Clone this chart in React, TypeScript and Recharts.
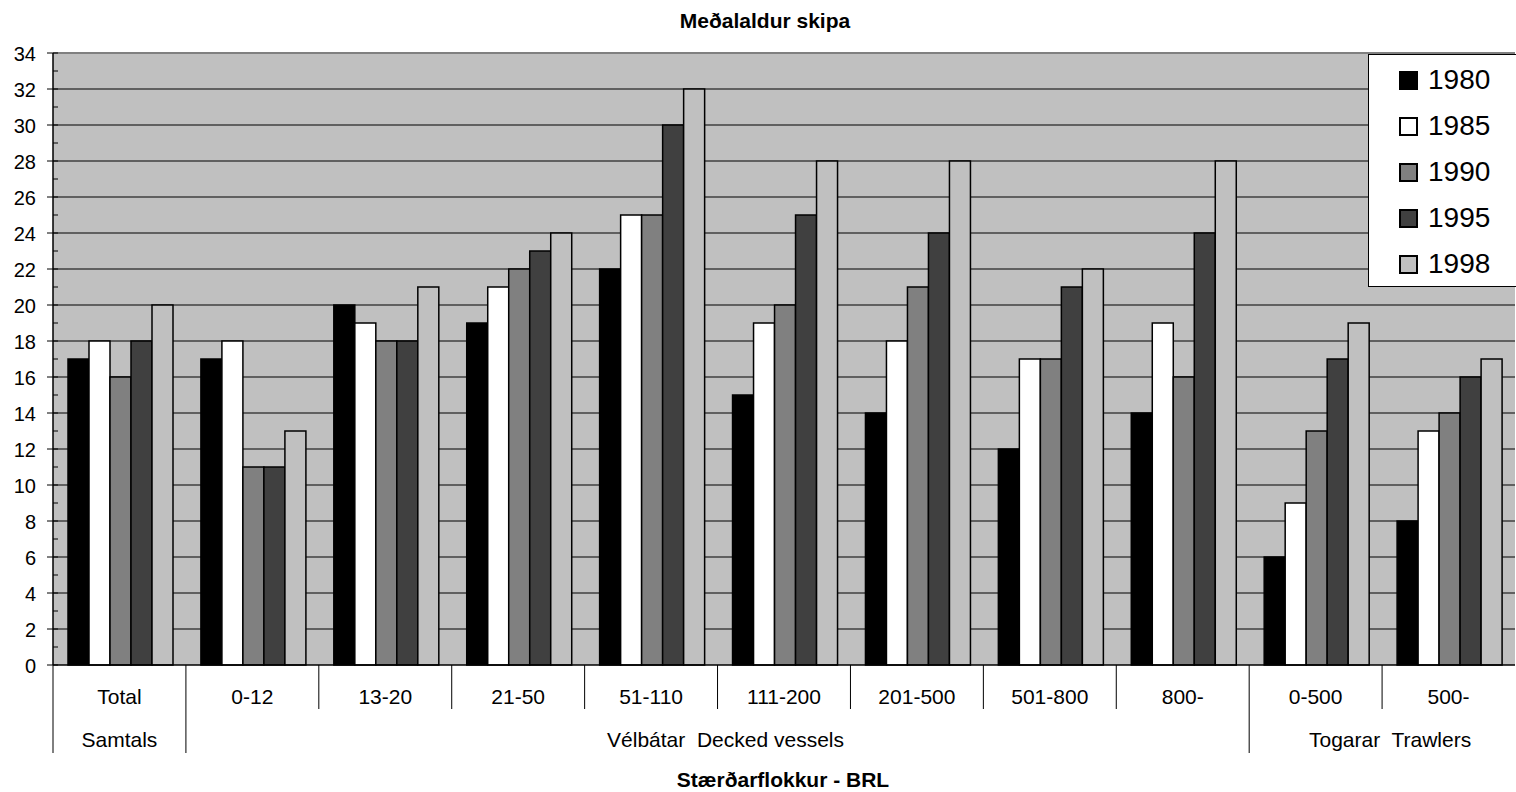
import { BarChart, Bar, XAxis, YAxis, CartesianGrid, Legend, ReferenceLine } from 'recharts';

const categories = ['Total', '0-12', '13-20', '21-50', '51-110', '111-200', '201-500', '501-800', '800-', '0-500', '500-'];

const groups = [
  { name: 'Samtals', start: 0, size: 1 },
  { name: 'Vélbátar  Decked vessels', start: 1, size: 8 },
  { name: 'Togarar  Trawlers', start: 9, size: 2 },
];

const v1980 = [17, 17, 20, 19, 22, 15, 14, 12, 14, 6, 8];
const v1985 = [18, 18, 19, 21, 25, 19, 18, 17, 19, 9, 13];
const v1990 = [16, 11, 18, 22, 25, 20, 21, 17, 16, 13, 14];
const v1995 = [18, 11, 18, 23, 30, 25, 24, 21, 24, 17, 16];
const v1998 = [20, 13, 21, 24, 32, 28, 28, 22, 28, 19, 17];

const years = ['1980', '1985', '1990', '1995', '1998'];
const colors = ['#000000', '#ffffff', '#808080', '#404040', '#c0c0c0'];

const majorTicks = [0, 2, 4, 6, 8, 10, 12, 14, 16, 18, 20, 22, 24, 26, 28, 30, 32, 34];
const minorTicks = [1, 3, 5, 7, 9, 11, 13, 15, 17, 19, 21, 23, 25, 27, 29, 31, 33];
const gridLines = [2, 4, 6, 8, 10, 12, 14, 16, 18, 20, 22, 24, 26, 28, 30, 32];

const data = categories.map((name, i) => ({
  name,
  y1980: v1980[i],
  y1985: v1985[i],
  y1990: v1990[i],
  y1995: v1995[i],
  y1998: v1998[i],
}));

const FONT = '"Liberation Sans", Arial, sans-serif';
const W = 1516;
const H = 792;
const Y_AXIS_W = 53;
const MARGIN = { top: 53, right: 1, bottom: 27, left: 0 };
const BAND = (W - Y_AXIS_W - MARGIN.left - MARGIN.right) / categories.length;

function YTick(props: any) {
  const { x, y, payload } = props;
  const major = payload.value % 2 === 0;
  return (
    <g>
      <line x1={major ? x - 6 : x} x2={x + 5} y1={y} y2={y} stroke="#000" strokeWidth={1} />
      {major && (
        <text x={x - 17} y={y + 8} textAnchor="end" fontSize={20} fontFamily={FONT} fill="#000">
          {payload.value}
        </text>
      )}
    </g>
  );
}

function XTick(props: any) {
  const { x, y, payload } = props;
  const idx = categories.indexOf(payload.value);
  const group = groups.find((g) => g.start === idx);
  const left = x - BAND / 2;
  return (
    <g>
      <line x1={left} x2={left} y1={y} y2={y + (group ? 88 : 44)} stroke="#000" strokeWidth={1} />
      <text x={x} y={y + 39} textAnchor="middle" fontSize={21} fontFamily={FONT} fill="#000">
        {payload.value}
      </text>
      {group && (
        <text
          x={x + ((group.size - 1) / 2) * BAND + (group.size > 1 ? 8 : 0)}
          y={y + 82}
          textAnchor="middle"
          fontSize={21}
          fontFamily={FONT}
          fill="#000"
          style={{ whiteSpace: 'pre' }}
        >
          {group.name}
        </text>
      )}
    </g>
  );
}

function LegendBox(props: any) {
  const { payload } = props;
  return (
    <div
      style={{
        width: 180,
        height: 233,
        background: '#fff',
        border: '1px solid #000',
        boxSizing: 'border-box',
        paddingTop: 2,
        fontFamily: FONT,
      }}
    >
      {(payload || []).map((entry: any, i: number) => (
        <div key={entry.value} style={{ display: 'flex', alignItems: 'center', height: 46, paddingLeft: 30 }}>
          <span
            style={{
              display: 'inline-block',
              width: 15,
              height: 15,
              background: colors[i],
              border: '2px solid #000',
              marginRight: 10,
            }}
          />
          <span style={{ fontSize: 28, lineHeight: '28px', color: '#000' }}>{entry.value}</span>
        </div>
      ))}
    </div>
  );
}

export default function App() {
  return (
    <div style={{ position: 'relative', width: W, height: H, overflow: 'hidden', background: '#fff' }}>
      <style>{'body{margin:0}'}</style>
      <div
        style={{
          position: 'absolute',
          left: 765,
          top: 10,
          transform: 'translateX(-50%)',
          fontFamily: FONT,
          fontWeight: 'bold',
          fontSize: 21,
          lineHeight: '21px',
          whiteSpace: 'nowrap',
          zIndex: 2,
        }}
      >
        Meðalaldur skipa
      </div>
      <BarChart width={W} height={H} data={data} margin={MARGIN} barCategoryGap={15} barGap={0}>
        <CartesianGrid
          vertical={false}
          horizontalValues={gridLines}
          stroke="#000"
          strokeWidth={1}
          fill="#c0c0c0"
          fillOpacity={1}
        />
        <XAxis
          dataKey="name"
          interval={0}
          height={100}
          tickLine={false}
          tickSize={0}
          tickMargin={0}
          axisLine={{ stroke: '#000', strokeWidth: 1.5 }}
          tick={(p: any) => <XTick {...p} />}
        />
        <YAxis
          width={Y_AXIS_W}
          domain={[0, 34]}
          ticks={[...majorTicks, ...minorTicks].sort((a, b) => a - b)}
          interval={0}
          tickLine={false}
          tickSize={0}
          tickMargin={0}
          axisLine={{ stroke: '#000', strokeWidth: 1.5 }}
          tick={(p: any) => <YTick {...p} />}
        />
        <ReferenceLine y={34} stroke="#808080" strokeWidth={2} />
        {years.map((yr, i) => (
          <Bar
            key={yr}
            dataKey={`y${yr}`}
            name={yr}
            fill={colors[i]}
            stroke="#000"
            strokeWidth={1.5}
            isAnimationActive={false}
          />
        ))}
        <Legend
          layout="vertical"
          align="center"
          verticalAlign="middle"
          wrapperStyle={{ left: 1368, top: 54, width: 180, height: 233 }}
          content={(p: any) => <LegendBox {...p} />}
        />
      </BarChart>
      <div
        style={{
          position: 'absolute',
          left: 783,
          top: 769,
          transform: 'translateX(-50%)',
          fontFamily: FONT,
          fontWeight: 'bold',
          fontSize: 21,
          lineHeight: '21px',
          whiteSpace: 'nowrap',
        }}
      >
        Stærðarflokkur - BRL
      </div>
    </div>
  );
}
